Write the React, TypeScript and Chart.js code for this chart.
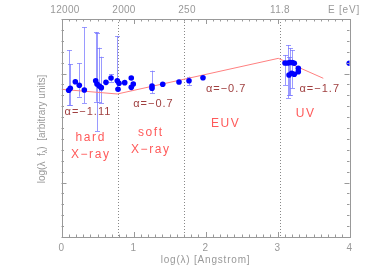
import React, { useEffect, useRef } from "react";
import { Chart, registerables } from "chart.js";

Chart.register(...registerables);

// log(lambda [Angstrom]) of each measurement
const logLambda = [
  0.1, 0.122, 0.192, 0.247, 0.317, 0.475, 0.493, 0.525, 0.553, 0.618, 0.688, 0.775,
  0.799, 0.785, 0.878, 0.969, 0.997, 0.969, 1.257, 1.257, 1.406, 1.632, 1.771, 1.965,
  3.104, 3.142, 3.174, 3.206, 3.233, 3.16, 3.197, 3.233, 3.289, 3.289, 3.997,
];
// log(lambda f_lambda) values
const logFlux = [
  0.846, 0.864, 0.925, 0.892, 0.849, 0.934, 0.904, 0.885, 0.87, 0.919, 0.959, 0.934,
  0.91, 0.855, 0.916, 0.959, 0.904, 0.873, 0.885, 0.864, 0.901, 0.922, 0.934, 0.961,
  1.096, 1.096, 1.101, 1.101, 1.094, 0.986, 1.002, 0.993, 1.017, 1.048, 1.094,
];
// error bar limits (null = no bar)
const errLow: (number | null)[] = [
  0.711, 0.711, null, 0.787, 0.729, 0.741, 0.472, 0.741, 0.732, null, 0.925, 0.87,
  null, null, null, null, null, null, 0.818, null, null, null, 0.894, null,
  0.894, 0.775, 0.803, 0.867, null, 0.803, null, null, null, null, null,
];
const errHigh: (number | null)[] = [
  1.213, 1.087, null, 1.094, 1.424, 1.381, 1.374, 1.237, 1.154, null, 0.995, 1.344,
  null, null, null, null, null, null, 1.026, null, null, null, 0.971, null,
  1.17, 1.261, 1.234, 1.216, null, 1.151, null, null, null, null, null,
];

// broken power-law model
const modelX = [0, 0.775, 3.011, 3.636];
const modelY = [0.855, 0.812, 1.139, 0.956];

// band boundaries (dotted lines)
const boundaryX = [0.78, 1.7, 3.03];

// axes
const xMin = 0, xMax = 4, yMin = -0.5, yMax = 1.5;
const bottomTickValues = [0, 1, 2, 3, 4];
const topTickLabels = ["12000", "2000", "250", "11.8"];
const topTickPositions = [0.049, 0.868, 1.743, 3.035];
const topAxisUnit = "E [eV]";
const xTitle = "log(λ) [Angstrom]";

// slope annotations
const slopeLabels = ["α=−1.11", "α=−0.7", "α=−0.7", "α=−1.7"];
const slopeX = [0.36, 1.27, 2.28, 3.58];
const slopeY = [0.65, 0.725, 0.86, 0.86];

// band names
const bandLines = [["hard", "X−ray"], ["soft", "X−ray"], ["EUV"], ["UV"]];
const bandX = [0.395, 1.23, 2.27, 3.38];
const bandY = [0.335, 0.38, 0.535, 0.635];

const GRAY = "#999999";
const FONT = "'Liberation Sans', Arial, sans-serif";

function spaced(ctx: any, sp: string) {
  try {
    ctx.letterSpacing = sp;
  } catch (e) {
    /* ignore */
  }
}

const customPlugin = {
  id: "customDraw",
  beforeDatasetsDraw(chart: any) {
    const { ctx, chartArea: a } = chart;
    const xs = chart.scales.x;
    const ys = chart.scales.y;
    ctx.save();
    // dotted band boundaries
    ctx.strokeStyle = "#888888";
    ctx.lineWidth = 1;
    ctx.setLineDash([1, 2]);
    boundaryX.forEach((v) => {
      const px = Math.round(xs.getPixelForValue(v)) + 0.5;
      ctx.beginPath();
      ctx.moveTo(px, a.top);
      ctx.lineTo(px, a.bottom);
      ctx.stroke();
    });
    ctx.setLineDash([]);
    // error bars
    ctx.strokeStyle = "rgba(120,120,255,0.75)";
    logLambda.forEach((lx, i) => {
      const lo = errLow[i];
      const hi = errHigh[i];
      if (lo === null || hi === null) return;
      const px = Math.round(xs.getPixelForValue(lx)) + 0.5;
      const p1 = ys.getPixelForValue(lo);
      const p2 = ys.getPixelForValue(hi);
      ctx.beginPath();
      ctx.moveTo(px, p1);
      ctx.lineTo(px, p2);
      ctx.moveTo(px - 2.5, Math.round(p1) + 0.5);
      ctx.lineTo(px + 2.5, Math.round(p1) + 0.5);
      ctx.moveTo(px - 2.5, Math.round(p2) + 0.5);
      ctx.lineTo(px + 2.5, Math.round(p2) + 0.5);
      ctx.stroke();
    });
    ctx.restore();
  },
  afterDraw(chart: any) {
    const { ctx, chartArea: a } = chart;
    const xs = chart.scales.x;
    const ys = chart.scales.y;
    ctx.save();
    // frame
    ctx.strokeStyle = GRAY;
    ctx.lineWidth = 1;
    ctx.strokeRect(Math.round(a.left) + 0.5, Math.round(a.top) + 0.5, Math.round(a.right - a.left), Math.round(a.bottom - a.top));
    // x ticks (bottom and top)
    for (let k = 0; k <= 40; k++) {
      const v = xMin + k * 0.1;
      const px = Math.round(xs.getPixelForValue(v)) + 0.5;
      const len = k % 10 === 0 ? 5 : 2.5;
      ctx.beginPath();
      ctx.moveTo(px, a.bottom);
      ctx.lineTo(px, a.bottom - len);
      ctx.moveTo(px, a.top);
      ctx.lineTo(px, a.top + len);
      ctx.stroke();
    }
    // y ticks (left and right)
    for (let k = 0; k <= 20; k++) {
      const v = yMin + k * 0.1;
      const py = Math.round(ys.getPixelForValue(v)) + 0.5;
      const major = Math.abs(v - Math.round(v)) < 1e-6;
      const len = major ? 5 : 2.5;
      ctx.beginPath();
      ctx.moveTo(a.left, py);
      ctx.lineTo(a.left + len, py);
      ctx.moveTo(a.right, py);
      ctx.lineTo(a.right - len, py);
      ctx.stroke();
    }
    // bottom tick labels
    ctx.fillStyle = GRAY;
    ctx.font = "10px " + FONT;
    ctx.textAlign = "center";
    ctx.textBaseline = "middle";
    spaced(ctx, "0.3px");
    bottomTickValues.forEach((v) => {
      ctx.fillText(String(v), xs.getPixelForValue(v), a.bottom + 11.5);
    });
    // top tick labels
    topTickLabels.forEach((t, i) => {
      ctx.fillText(t, xs.getPixelForValue(topTickPositions[i]), a.top - 9);
    });
    spaced(ctx, "0.8px");
    ctx.fillText(topAxisUnit, a.right - 5.5, a.top - 9);
    // x title
    ctx.fillText(xTitle, (a.left + a.right) / 2, a.bottom + 23.5);
    spaced(ctx, "0px");
    // y title (rotated, with subscript)
    ctx.save();
    ctx.translate(a.left - 19, (a.top + a.bottom) / 2 + 1);
    ctx.rotate(-Math.PI / 2);
    const partA = "log(λ  f";
    const sub = "λ";
    const partB = ")  [arbitrary units]";
    ctx.font = "10px " + FONT;
    const wA = ctx.measureText(partA).width;
    const wB = ctx.measureText(partB).width;
    ctx.font = "7px " + FONT;
    const wS = ctx.measureText(sub).width;
    const total = wA + wS + wB;
    let cx = -total / 2;
    ctx.textAlign = "left";
    ctx.font = "10px " + FONT;
    ctx.fillText(partA, cx, 0);
    cx += wA;
    ctx.font = "7px " + FONT;
    ctx.fillText(sub, cx, 3);
    cx += wS;
    ctx.font = "10px " + FONT;
    ctx.fillText(partB, cx, 0);
    ctx.restore();
    // slope annotations
    ctx.textAlign = "center";
    ctx.fillStyle = "#a04040";
    ctx.font = "11px " + FONT;
    spaced(ctx, "1px");
    slopeLabels.forEach((t, i) => {
      ctx.fillText(t, xs.getPixelForValue(slopeX[i]) + 0.5, ys.getPixelForValue(slopeY[i]));
    });
    // band labels
    ctx.fillStyle = "#ff5a5a";
    ctx.font = "12px " + FONT;
    spaced(ctx, "1.6px");
    bandLines.forEach((lines, i) => {
      const cxp = xs.getPixelForValue(bandX[i]) + 0.8;
      const cyp = ys.getPixelForValue(bandY[i]);
      lines.forEach((ln, j) => {
        ctx.fillText(ln, cxp, cyp + (j - (lines.length - 1) / 2) * 16.5);
      });
    });
    spaced(ctx, "0px");
    ctx.restore();
  },
};

export default function App() {
  const canvasRef = useRef<HTMLCanvasElement | null>(null);

  useEffect(() => {
    document.body.style.margin = "0";
    const canvas = canvasRef.current;
    if (!canvas) return;
    const chart = new Chart(canvas, {
      type: "scatter",
      data: {
        datasets: [
          {
            label: "model",
            data: modelX.map((x, i) => ({ x, y: modelY[i] })),
            showLine: true,
            borderColor: "#ff8080",
            borderWidth: 1,
            pointRadius: 0,
            fill: false,
            order: 2,
          },
          {
            label: "data",
            data: logLambda.map((x, i) => ({ x, y: logFlux[i] })),
            backgroundColor: "#0000ff",
            borderColor: "#0000ff",
            pointRadius: 2.8,
            borderWidth: 0,
            clip: 0,
            order: 1,
          },
        ],
      },
      options: {
        animation: false,
        responsive: false,
        maintainAspectRatio: false,
        devicePixelRatio: 1,
        layout: { padding: { left: 61.5, right: 18.5, top: 19, bottom: 39 } },
        plugins: { legend: { display: false }, tooltip: { enabled: false } },
        scales: {
          x: { type: "linear", min: xMin, max: xMax, display: false },
          y: { type: "linear", min: yMin, max: yMax, display: false },
        },
      },
      plugins: [customPlugin],
    });
    return () => chart.destroy();
  }, []);

  return (
    <div style={{ width: 368, height: 276, background: "#ffffff" }}>
      <canvas ref={canvasRef} width={368} height={276} />
    </div>
  );
}
